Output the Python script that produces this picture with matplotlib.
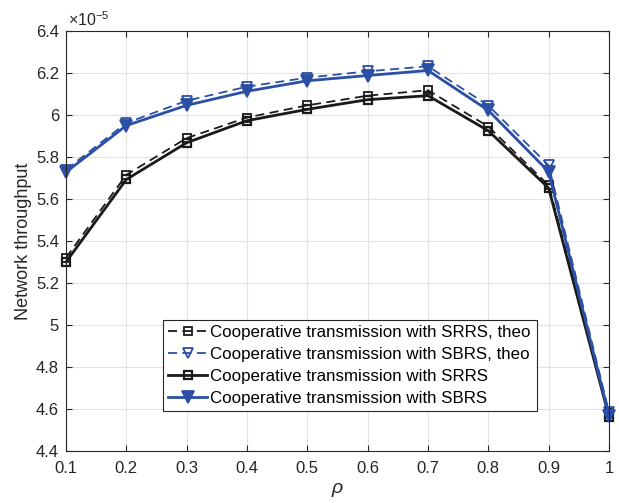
import matplotlib
matplotlib.use("Agg")
import matplotlib.pyplot as plt

plt.rcParams['font.family'] = ['Liberation Sans', 'DejaVu Sans']
plt.rcParams['mathtext.fontset'] = 'custom'
plt.rcParams['mathtext.rm'] = 'Liberation Sans'
plt.rcParams['mathtext.it'] = 'Liberation Sans:italic'

rho = [0.1, 0.2, 0.3, 0.4, 0.5, 0.6, 0.7, 0.8, 0.9, 1.0]
# values in units of 1e-5
srrs_theo = [5.32, 5.715, 5.89, 5.988, 6.046, 6.092, 6.118, 5.945, 5.665, 4.58]
sbrs_theo = [5.74, 5.962, 6.068, 6.135, 6.178, 6.208, 6.232, 6.045, 5.76, 4.585]
srrs_sim = [5.30, 5.693, 5.868, 5.973, 6.027, 6.073, 6.092, 5.925, 5.652, 4.563]
sbrs_sim = [5.728, 5.95, 6.046, 6.113, 6.163, 6.188, 6.212, 6.022, 5.73, 4.568]

labels = ['Cooperative transmission with SRRS, theo',
          'Cooperative transmission with SBRS, theo',
          'Cooperative transmission with SRRS',
          'Cooperative transmission with SBRS']

xticks = [0.1, 0.2, 0.3, 0.4, 0.5, 0.6, 0.7, 0.8, 0.9, 1.0]
xticklabels = ['0.1', '0.2', '0.3', '0.4', '0.5', '0.6', '0.7', '0.8', '0.9', '1']
yticks = [4.4, 4.6, 4.8, 5.0, 5.2, 5.4, 5.6, 5.8, 6.0, 6.2, 6.4]
yticklabels = ['4.4', '4.6', '4.8', '5', '5.2', '5.4', '5.6', '5.8', '6', '6.2', '6.4']

black = '#1a1a1a'
blue = '#2c4fa6'
axcol = '#262626'

fig = plt.figure(figsize=(6.19, 5.03), dpi=100)
ax = fig.add_axes([66/619, 52/503, 543/619, 420/503])

ax.plot(rho, srrs_theo, '--', color=black, lw=1.3, marker='s', ms=5.5,
        mfc='none', mec=black, mew=1.3, dashes=(5, 3), label=labels[0], clip_on=False)
ax.plot(rho, sbrs_theo, '--', color=blue, lw=1.3, marker='v', ms=7,
        mfc='none', mec=blue, mew=1.3, dashes=(5, 3), label=labels[1], clip_on=False)
ax.plot(rho, srrs_sim, '-', color=black, lw=2.0, marker='s', ms=6,
        mfc='none', mec=black, mew=1.6, label=labels[2], clip_on=False)
ax.plot(rho, sbrs_sim, '-', color=blue, lw=2.0, marker='v', ms=8,
        mfc=blue, mec=blue, mew=1.3, label=labels[3], clip_on=False)

ax.set_xlim(0.1, 1.0)
ax.set_ylim(4.4, 6.4)
ax.set_xticks(xticks)
ax.set_xticklabels(xticklabels)
ax.set_yticks(yticks)
ax.set_yticklabels(yticklabels)
ax.tick_params(direction='in', top=True, right=True, labelsize=12, length=4,
               colors=axcol, width=0.8)
ax.tick_params(axis='x', pad=7)
ax.tick_params(axis='y', pad=5)
for s in ax.spines.values():
    s.set_color(axcol)
    s.set_linewidth(0.8)
ax.grid(True, color='#e3e3e3', lw=0.8)
ax.set_axisbelow(True)

ax.set_xlabel(r'$\it{\rho}$', fontsize=14, color=axcol, labelpad=4)
ax.set_ylabel('Network throughput', fontsize=13, color=axcol, labelpad=2.5)
ax.text(0.003, 1.005, r'$\times10^{-5}$', transform=ax.transAxes, fontsize=11.5,
        color=axcol, ha='left', va='bottom')

leg = ax.legend(loc='lower left', bbox_to_anchor=(163/619, 92/503, 374/619, 92/503),
                bbox_transform=fig.transFigure, mode='expand', fontsize=12.2,
                fancybox=False, edgecolor=axcol, framealpha=1,
                handlelength=2.3, handletextpad=0.15, borderpad=0.3,
                labelspacing=0.41, borderaxespad=0)
leg.get_frame().set_linewidth(0.8)

fig.savefig('out.png', dpi=100)
